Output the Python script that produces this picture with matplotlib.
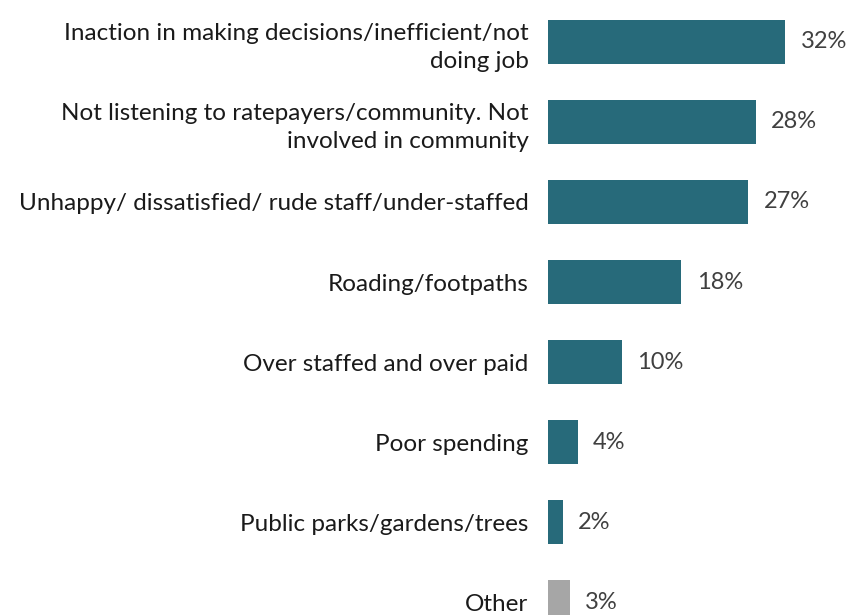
import matplotlib.pyplot as plt

plt.rcParams['font.family'] = ['Lato', 'DejaVu Sans']

categories = [
    'Inaction in making decisions/inefficient/not\ndoing job',
    'Not listening to ratepayers/community. Not\ninvolved in community',
    'Unhappy/ dissatisfied/ rude staff/under-staffed',
    'Roading/footpaths',
    'Over staffed and over paid',
    'Poor spending',
    'Public parks/gardens/trees',
    'Other',
]
values = [32, 28, 27, 18, 10, 4, 2, 3]
colors = ['#276a7a'] * 7 + ['#a6a6a6']

fig = plt.figure(figsize=(8.52, 6.15), dpi=100)
ax = fig.add_axes([0.643, 0.0, 0.357, 1.0])

ypos = list(range(len(categories)))
ax.barh(ypos, values, height=0.55, color=colors)

for y, v in zip(ypos, values):
    ax.annotate(f'{v}%', (v, y), xytext=(11, 0), textcoords='offset points',
                va='center', ha='left', fontsize=17, color='#404040')

ax.set_yticks(ypos)
ax.set_yticklabels(categories, fontsize=17.5, color='#1a1a1a', linespacing=1.4)
ax.tick_params(axis='y', length=0, pad=14)
ax.set_xticks([])
ax.set_xlim(0, 41)
ax.set_ylim(7.1625, -0.525)
for s in ax.spines.values():
    s.set_visible(False)

fig.savefig('out.png', dpi=100)
